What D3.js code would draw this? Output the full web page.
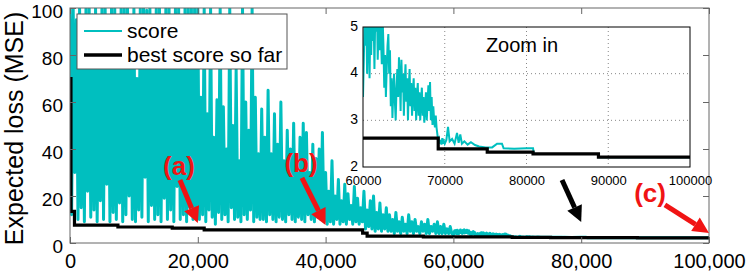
<!DOCTYPE html>
<html>
<head>
<meta charset="utf-8">
<script src="https://cdn.jsdelivr.net/npm/d3@7"></script>
<style>
  body { margin: 0; background: #fff; }
  svg { display: block; font-family: "Liberation Sans", Arial, sans-serif; }
</style>
</head>
<body>
<svg id="chart" width="747" height="271"></svg>
<script>
// score trace, one sample every 250 iterations from 0 to 59750
const scoreStep = 250;
const scoreEarly = [
  100,12,100,30,95,10,100,15,88,9, 100,22,100,11,97,14,100,9,76,18,
  100,10,100,25,92,9,100,13,100,10, 85,17,100,9,100,12,100,20,94,10,
  100,9,70,14,100,11,100,28,99,9, 100,16,90,10,100,12,100,9,80,19,
  100,10,100,14,95,9,100,24,100,10, 88,12,100,9,100,15,100,10,100,13,
  // 20000 - 30000
  100,10,62,12,100,9,55,14,100,11, 45,8,61,13,100,10,58,12,40,9,
  100,15,50,10,74,11,35,9,100,12, 60,10,48,14,100,9,62,11,38,10,
  // 30000 - 40000
  57,10,45,9,65,12,38,10,55,9, 42,11,60,10,35,9,48,12,40,10,
  51,9,33,11,45,10,51,9,47,12, 30,10,42,9,36,11,40,10,47,9,
  // 40000 - 50000
  30,8,22,9,35,8,20,10,27,8, 18,9,25,8,21,10,16,8,24,9,
  19,8,15,9,22,6,14,7,18,6, 20,5,13,6,17,5,12,6,15,5,
  // 50000 - 60000
  12,5,10,4,13,5,9,4,11,5, 8,4,12,5,9,4,10,5,7,4,
  9,5,8,4,10,4,7,5,8,4, 9,4,7,4,8,4,6,4,7,4
];
// score trace, one sample every 100 iterations from 60000 to 69900
const zoomStep = 100;
const scoreZoom = [
  3.5,4.3,5.2,4.6,5.3,4.0,5.4,4.8,3.9,5.1,
  4.4,5.5,4.7,5.2,4.1,5.3,4.9,5.6,4.3,5.0,
  4.5,5.4,4.8,4.2,5.2,4.6,3.7,4.4,3.5,4.1,
  4.6,4.85,4.0,4.5,3.3,3.9,3.05,3.6,4.0,3.4,
  3.0,3.7,4.1,3.5,4.35,3.9,3.2,4.3,3.6,4.0,
  3.1,3.8,4.2,3.4,3.9,3.0,3.7,4.1,3.3,3.8,
  3.1,3.6,3.9,3.2,3.7,3.0,3.5,3.8,3.1,3.6,
  3.0,3.4,3.7,3.1,3.5,2.95,3.3,3.6,3.0,3.4,
  3.75,3.2,3.82,3.0,3.5,2.9,3.3,3.0,2.85,3.1,
  2.84,2.7,2.55,2.6,2.5,2.58,2.48,2.62,2.5,2.55
];
// [iteration, score] after 70000
const scoreLate = [
  [70000,2.5],[70200,2.58],[70400,2.86],[70600,2.55],[70900,2.6],[71200,2.5],
  [71500,2.73],[71700,2.52],[71900,2.7],[72100,2.5],[72400,2.55],[72800,2.48],
  [73200,2.53],[73700,2.47],[74200,2.44],[75000,2.42],[75800,2.42],[76400,2.5],
  [77000,2.5],[77200,2.4],[78500,2.39],[80000,2.4],[80800,2.4],[80900,2.28],
  [88800,2.28],[88900,2.21],[100000,2.21]
];
// best score so far (step changes)
const bestIter = [0, 150, 700, 7500, 16000, 21000, 45800, 46500, 55300, 69200, 75200, 80800, 88800, 100000];
const bestLoss = [70, 13.5, 7.6, 6.8, 6.3, 5.6, 4.2, 2.9, 2.62, 2.39, 2.32, 2.28, 2.21, 2.21];

const xTicks = [0, 20000, 40000, 60000, 80000, 100000];
const yTicks = [0, 20, 40, 60, 80, 100];
const zoomXTicks = [60000, 70000, 80000, 90000, 100000];
const zoomYTicks = [2, 3, 4, 5];

// arrows: label, colour, from (iter, loss) to (iter, loss)
const notes = [
  { label: "(a)", color: "#f01414", lx: 17050, ly: 33, x0: 17200, y0: 26.8, x1: 20000, y1: 8.5 },
  { label: "(b)", color: "#f01414", lx: 36150, ly: 34, x0: 36300, y0: 27.7, x1: 40000, y1: 7.7 },
  { label: "(c)", color: "#f01414", lx: 90770, ly: 21.3, x0: 93100, y0: 16.2, x1: 100000, y1: 4.3 },
  { label: "", color: "#000", x0: 77000, y0: 26.8, x1: 80000, y1: 8.9 }
];

const cyan = "#00bfbf";
const svg = d3.select("#chart");

const score = scoreEarly.map((v, i) => [i * scoreStep, v])
  .concat(scoreZoom.map((v, i) => [60000 + i * zoomStep, v]))
  .concat(scoreLate);
const best = bestIter.map((it, i) => [it, bestLoss[i]]);

// ---------- main axes ----------
const m = { left: 70, top: 8, right: 709, bottom: 243 };
const x = d3.scaleLinear().domain([0, 100000]).range([m.left, m.right]);
const y = d3.scaleLinear().domain([0, 100]).range([m.bottom, m.top]);

const defs = svg.append("defs");
defs.append("clipPath").attr("id", "mainClip").append("rect")
  .attr("x", m.left).attr("y", m.top)
  .attr("width", m.right - m.left).attr("height", m.bottom - m.top);

const line = d3.line().x(d => x(d[0])).y(d => y(d[1]));
const stepLine = d3.line().x(d => x(d[0])).y(d => y(d[1])).curve(d3.curveStepAfter);

svg.append("path")
  .datum(score)
  .attr("clip-path", "url(#mainClip)")
  .attr("d", line)
  .attr("fill", "none")
  .attr("stroke", cyan)
  .attr("stroke-width", 3)
  .attr("stroke-linejoin", "round");

svg.append("path")
  .datum(best)
  .attr("clip-path", "url(#mainClip)")
  .attr("d", stepLine)
  .attr("fill", "none")
  .attr("stroke", "#000")
  .attr("stroke-width", 3.2);

// box + ticks on all sides, MATLAB style
const axisColor = "#666";
svg.append("rect")
  .attr("x", m.left).attr("y", m.top)
  .attr("width", m.right - m.left).attr("height", m.bottom - m.top)
  .attr("fill", "none").attr("stroke", axisColor);

function styleAxis(g, size) {
  g.select(".domain").remove();
  g.selectAll(".tick line").attr("stroke", axisColor);
  g.selectAll(".tick text").attr("fill", "#000").style("font-size", size + "px")
    .style("font-family", '"Liberation Sans", Arial, sans-serif');
}

svg.append("g").attr("transform", `translate(0,${m.bottom})`)
  .call(d3.axisBottom(x).tickValues(xTicks).tickSizeInner(-6).tickSizeOuter(0)
    .tickPadding(11).tickFormat(d3.format(",")))
  .call(g => styleAxis(g, 20));
svg.append("g").attr("transform", `translate(0,${m.top})`)
  .call(d3.axisTop(x).tickValues(xTicks).tickSizeInner(-6).tickSizeOuter(0).tickFormat(""))
  .call(g => styleAxis(g, 20));
svg.append("g").attr("transform", `translate(${m.left},0)`)
  .call(d3.axisLeft(y).tickValues(yTicks).tickSizeInner(-6).tickSizeOuter(0).tickPadding(7))
  .call(g => styleAxis(g, 19))
  .call(g => g.selectAll(".tick text").attr("dy", "0.52em"));
svg.append("g").attr("transform", `translate(${m.right},0)`)
  .call(d3.axisRight(y).tickValues(yTicks).tickSizeInner(-6).tickSizeOuter(0).tickFormat(""))
  .call(g => styleAxis(g, 20));

svg.append("text")
  .attr("transform", `translate(23,${(m.top + m.bottom) / 2 + 3}) rotate(-90)`)
  .attr("text-anchor", "middle")
  .style("font-size", "25px")
  .text("Expected loss (MSE)");

// ---------- legend ----------
const legend = svg.append("g").attr("transform", "translate(77,14)");
legend.append("rect").attr("width", 210).attr("height", 55)
  .attr("fill", "#fff").attr("stroke", "#555");
const legendItems = [
  { name: "score", color: cyan, width: 2 },
  { name: "best score so far", color: "#000", width: 3.5 }
];
legendItems.forEach((d, i) => {
  const cy = 17 + i * 24;
  legend.append("line").attr("x1", 7).attr("x2", 45).attr("y1", cy).attr("y2", cy)
    .attr("stroke", d.color).attr("stroke-width", d.width);
  legend.append("text").attr("x", 50).attr("y", cy).attr("dy", "0.35em")
    .style("font-size", "21px").text(d.name);
});

// ---------- arrows ----------
notes.forEach(n => {
  const sx = x(n.x0), sy = y(n.y0), ex = x(n.x1), ey = y(n.y1);
  const ang = Math.atan2(ey - sy, ex - sx);
  const head = 16, half = 8;
  const bx = ex - head * Math.cos(ang), by = ey - head * Math.sin(ang);
  svg.append("line").attr("x1", sx).attr("y1", sy).attr("x2", bx).attr("y2", by)
    .attr("stroke", n.color).attr("stroke-width", 5);
  svg.append("path")
    .attr("d", `M${ex},${ey}L${bx - half * Math.sin(ang)},${by + half * Math.cos(ang)}L${bx + half * Math.sin(ang)},${by - half * Math.cos(ang)}Z`)
    .attr("fill", n.color);
  if (n.label) {
    svg.append("text").attr("x", x(n.lx)).attr("y", y(n.ly)).attr("dy", "0.35em")
      .attr("text-anchor", "middle").attr("fill", n.color)
      .style("font-size", "26px").style("font-weight", "bold")
      .text(n.label);
  }
});

// ---------- inset ----------
const z = { left: 363, top: 27, right: 690, bottom: 167 };
const zx = d3.scaleLinear().domain([60000, 100000]).range([z.left, z.right]);
const zy = d3.scaleLinear().domain([2, 5]).range([z.bottom, z.top]);

defs.append("clipPath").attr("id", "zoomClip").append("rect")
  .attr("x", z.left).attr("y", z.top)
  .attr("width", z.right - z.left).attr("height", z.bottom - z.top);

const inset = svg.append("g");
inset.append("rect")
  .attr("x", z.left).attr("y", z.top)
  .attr("width", z.right - z.left).attr("height", z.bottom - z.top)
  .attr("fill", "#fff");

inset.append("g").selectAll("line").data(zoomXTicks.slice(1, -1)).join("line")
  .attr("x1", d => zx(d)).attr("x2", d => zx(d))
  .attr("y1", z.top).attr("y2", z.bottom)
  .attr("stroke", "#888").attr("stroke-dasharray", "1,3");
inset.append("g").selectAll("line").data(zoomYTicks.slice(1, -1)).join("line")
  .attr("x1", z.left).attr("x2", z.right)
  .attr("y1", d => zy(d)).attr("y2", d => zy(d))
  .attr("stroke", "#888").attr("stroke-dasharray", "1,3");

const zLine = d3.line().x(d => zx(d[0])).y(d => zy(d[1]));
const zStep = d3.line().x(d => zx(d[0])).y(d => zy(d[1])).curve(d3.curveStepAfter);

inset.append("path")
  .datum(score.filter(d => d[0] >= 60000))
  .attr("clip-path", "url(#zoomClip)")
  .attr("d", zLine)
  .attr("fill", "none").attr("stroke", cyan).attr("stroke-width", 2);

inset.append("path")
  .datum(best.filter(d => d[0] >= 55300))
  .attr("clip-path", "url(#zoomClip)")
  .attr("d", zStep)
  .attr("fill", "none").attr("stroke", "#000").attr("stroke-width", 3.2);

inset.append("rect")
  .attr("x", z.left).attr("y", z.top)
  .attr("width", z.right - z.left).attr("height", z.bottom - z.top)
  .attr("fill", "none").attr("stroke", "#000");

inset.append("g").attr("transform", `translate(0,${z.bottom})`)
  .call(d3.axisBottom(zx).tickValues(zoomXTicks).tickSize(0).tickPadding(9).tickFormat(d3.format("d")))
  .call(g => styleAxis(g, 13));
inset.append("g").attr("transform", `translate(${z.left},0)`)
  .call(d3.axisLeft(zy).tickValues(zoomYTicks).tickSize(0).tickPadding(5).tickFormat(d3.format("d")))
  .call(g => styleAxis(g, 14))
  .call(g => g.selectAll(".tick text").attr("dy", "0.22em"));

inset.append("text")
  .attr("x", 522).attr("y", 45).attr("dy", "0.35em")
  .attr("text-anchor", "middle")
  .style("font-size", "20px")
  .text("Zoom in");
</script>
</body>
</html>
